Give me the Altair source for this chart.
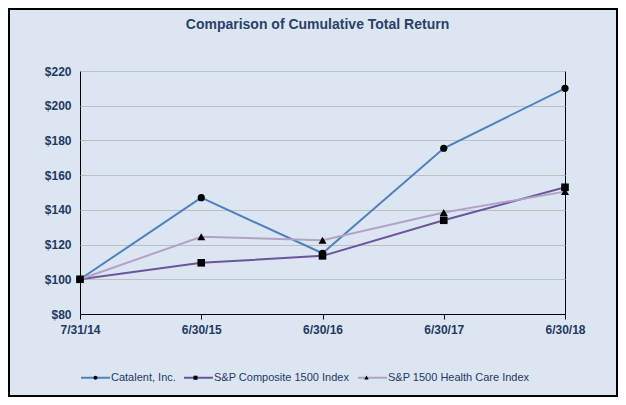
import altair as alt
import pandas as pd

dates = ["7/31/14", "6/30/15", "6/30/16", "6/30/17", "6/30/18"]
series = ["Catalent, Inc.", "S&P Composite 1500 Index", "S&P 1500 Health Care Index"]
catalent = [100, 147, 115, 175.5, 210]
composite = [100, 109.5, 113.5, 134, 153]
healthcare = [100, 124.5, 122.5, 138.5, 150.5]

colors = ["#4F81BD", "#6B559D", "#B3A2C7"]
shapes = ["circle", "square", "triangle-up"]
marker_sizes = [52, 64, 72]
legend_markers = [
    "M-0.14,0A0.14,0.14 0 1,0 0.14,0A0.14,0.14 0 1,0 -0.14,0Z",
    "M-0.14,-0.14L0.14,-0.14L0.14,0.14L-0.14,0.14Z",
    "M0,-0.16L0.15,0.12L-0.15,0.12Z",
]

rows = []
for s, vals in zip(series, [catalent, composite, healthcare]):
    for i, (d, v) in enumerate(zip(dates, vals)):
        rows.append({"date": d, "idx": i, "series": s, "value": v})
df = pd.DataFrame(rows)

NAVY = "#1F3864"
FONT = "Liberation Sans, Arial, sans-serif"
W, H = 485, 243
PL, PT, PR, PB = 72, 63, 53, 83

x = alt.X(
    "date:N",
    sort=dates,
    scale=alt.Scale(type="point", padding=0),
    axis=alt.Axis(
        title=None, labelAngle=0, ticks=True, tickSize=5, tickColor="black",
        domainColor="black", grid=False, labelFont=FONT, labelFontSize=12,
        labelFontWeight="bold", labelColor=NAVY, labelPadding=5,
    ),
)
y = alt.Y(
    "value:Q",
    scale=alt.Scale(domain=[80, 220], nice=False, zero=False),
    axis=alt.Axis(
        title=None, values=list(range(80, 221, 20)), format="$d", ticks=False,
        domain=False, grid=True, gridColor="#BFBFBF", gridWidth=1,
        labelFont=FONT, labelFontSize=12, labelFontWeight="bold",
        labelColor=NAVY, labelPadding=9,
    ),
)

legend_common = dict(
    title=None, orient="none", legendX=0, legendY=291, direction="horizontal",
    symbolSize=841, symbolStrokeWidth=2, labelFont=FONT, labelFontSize=11,
    labelOffset=0, columnPadding=4, symbolOpacity=1,
)

base = alt.Chart(df)

lines = base.mark_line(strokeWidth=2).encode(
    x=x, y=y,
    order=alt.Order("idx:Q"),
    color=alt.Color(
        "series:N",
        scale=alt.Scale(domain=series, range=colors),
        legend=alt.Legend(symbolType="M-1,0L1,0", labelColor=NAVY, **legend_common),
    ),
)

points = base.mark_point(filled=True, fill="black", opacity=1).encode(
    x=x, y=y,
    shape=alt.Shape("series:N", scale=alt.Scale(domain=series, range=shapes), legend=None),
    size=alt.Size("series:N", scale=alt.Scale(domain=series, range=marker_sizes), legend=None),
)

legend_layer = base.mark_point(filled=True, fill="black", opacity=0).encode(
    x=x, y=y,
    shape=alt.Shape(
        "series:N",
        sort=series,
        scale=alt.Scale(range=legend_markers),
        legend=alt.Legend(
            labelColor="transparent", symbolFillColor="black",
            symbolStrokeColor="transparent", **legend_common,
        ),
    ),
)

border = alt.Chart(pd.DataFrame({"a": [0]})).mark_rect(
    fill=None, stroke="black", strokeWidth=2
).encode(
    x=alt.value(-PL + 1), x2=alt.value(W + PR - 1),
    y=alt.value(-PT + 1), y2=alt.value(H + PB - 1),
)

chart = (
    alt.layer(border, lines, points, legend_layer)
    .resolve_scale(shape="independent", size="independent")
    .properties(
        width=W, height=H,
        padding={"left": PL, "top": PT, "right": PR, "bottom": PB},
        autosize=alt.AutoSizeParams(type="none"),
        background="#DCE6F2",
        title=alt.TitleParams(
            "Comparison of Cumulative Total Return",
            anchor="middle", frame="group", dx=-5, offset=-24,
            font="Liberation Sans Narrow, Arial Narrow, Liberation Sans, sans-serif",
            fontSize=14, fontWeight="bold", color="#2B3F6B",
        ),
    )
    .configure_view(stroke="black", strokeWidth=1, fill="#DCE6F2")
)

chart.save("out.html", embed_options={"renderer": "svg", "actions": False})
